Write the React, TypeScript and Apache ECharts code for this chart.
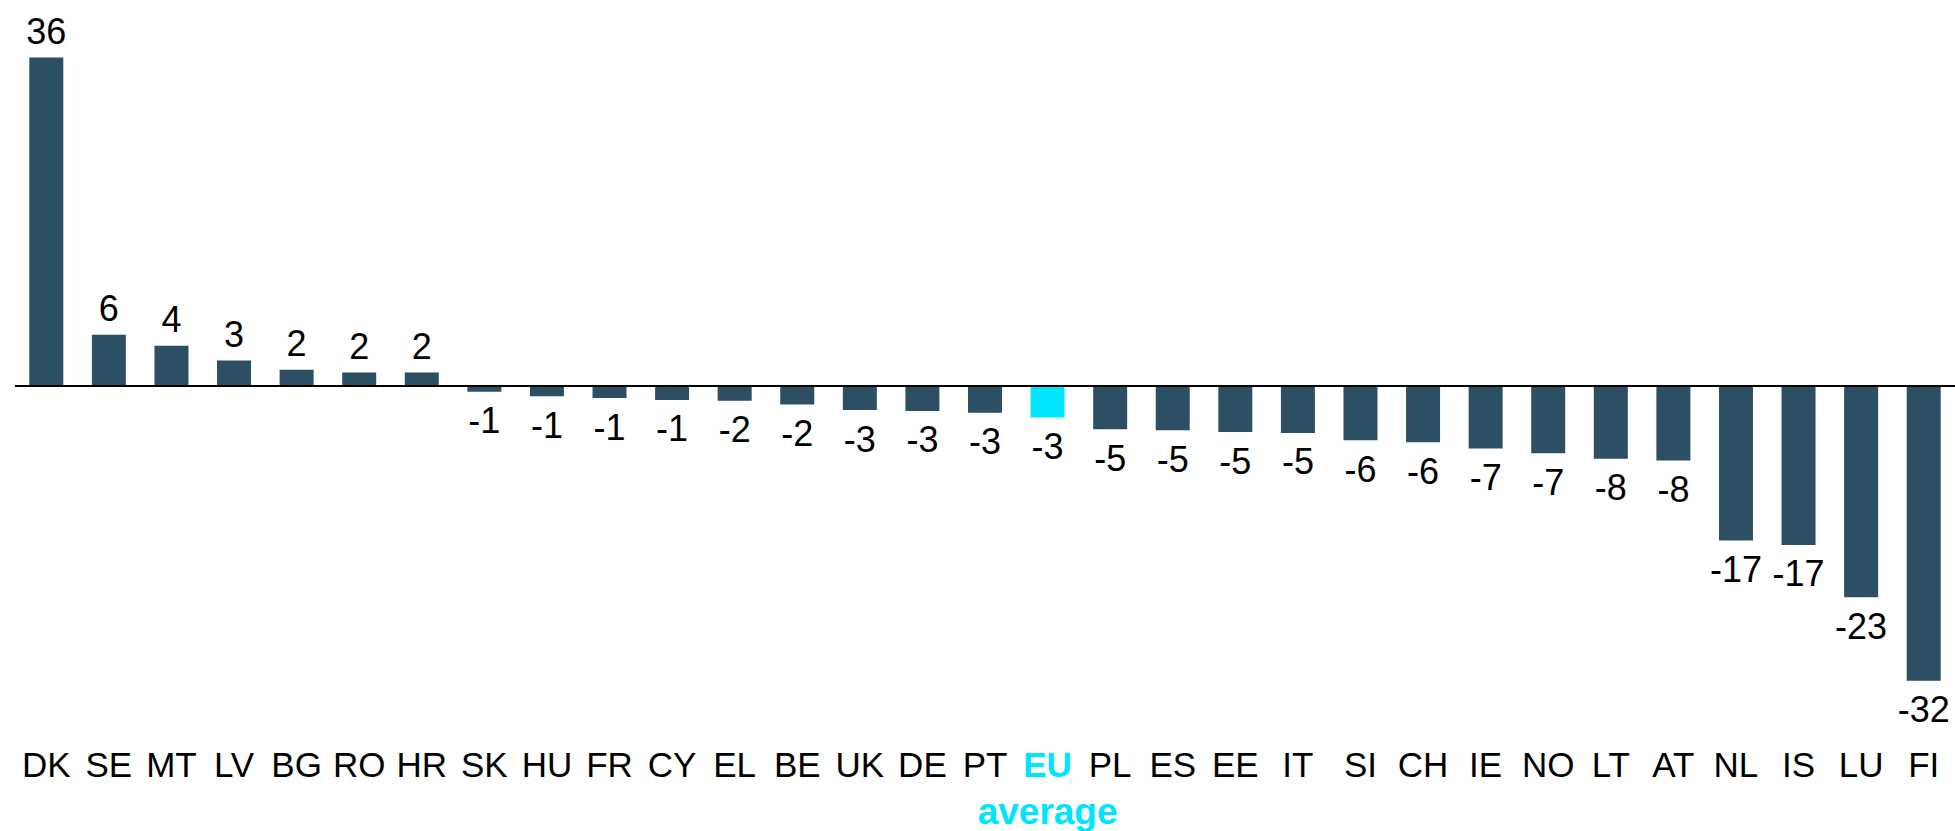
import React, { useEffect, useRef } from "react";
import * as echarts from "echarts";

const categories = ["DK","SE","MT","LV","BG","RO","HR","SK","HU","FR","CY","EL","BE","UK","DE","PT","EU","PL","ES","EE","IT","SI","CH","IE","NO","LT","AT","NL","IS","LU","FI"];
const values = [35.8,5.6,4.4,2.8,1.8,1.5,1.5,-0.6,-1.1,-1.3,-1.5,-1.6,-2.0,-2.6,-2.7,-2.9,-3.4,-4.7,-4.8,-5.0,-5.1,-5.9,-6.1,-6.8,-7.3,-7.9,-8.1,-16.8,-17.3,-23.0,-32.1];
const highlight = "EU";

const BAR = "#2C4F64";
const CYAN = "#00E5FF";
const FONT = "Liberation Sans";

export default function App() {
  const ref = useRef<HTMLDivElement>(null);
  useEffect(() => {
    document.body.style.margin = "0";
    if (!ref.current) return;
    const chart = echarts.init(ref.current, null, { renderer: "svg" });
    const data = values.map((v, i) => ({
      value: v,
      itemStyle: { color: categories[i] === highlight ? CYAN : BAR },
      label: { position: v < 0 ? "bottom" : "top", distance: v < 0 ? 11 : 8 },
    }));
    chart.setOption({
      animation: false,
      grid: { left: 15, right: 0, top: 19, height: 716, containLabel: false, outerBoundsMode: "none" },
      xAxis: {
        type: "category",
        data: categories,
        position: "bottom",
        axisLine: { show: false, onZero: false },
        axisTick: { show: false },
        axisLabel: {
          interval: 0,
          margin: 12,
          fontFamily: FONT,
          fontSize: 35,
          lineHeight: 35,
          color: "#000",
          formatter: (c: string) => (c === highlight ? "{eu|EU}\n{av|average}" : c),
          rich: {
            eu: { color: CYAN, fontWeight: "bold", fontFamily: FONT, fontSize: 35, lineHeight: 35 },
            av: { color: CYAN, fontWeight: "bold", fontFamily: FONT, fontSize: 37, lineHeight: 58 },
          },
        },
      },
      yAxis: { type: "value", min: -38, max: 40, show: false, splitLine: { show: false } },
      series: [
        {
          type: "bar",
          data,
          barWidth: 34,
          label: {
            show: true,
            fontFamily: FONT,
            fontSize: 36,
            color: "#000",
            formatter: (p: any) => String(Math.round(p.value)),
          },
          markLine: {
            silent: true,
            symbol: "none",
            label: { show: false },
            lineStyle: { color: "#000", width: 2, type: "solid" },
            data: [{ yAxis: 0 }],
          },
        },
      ],
    });
    return () => chart.dispose();
  }, []);
  return <div ref={ref} style={{ width: 1955, height: 831 }} />;
}
